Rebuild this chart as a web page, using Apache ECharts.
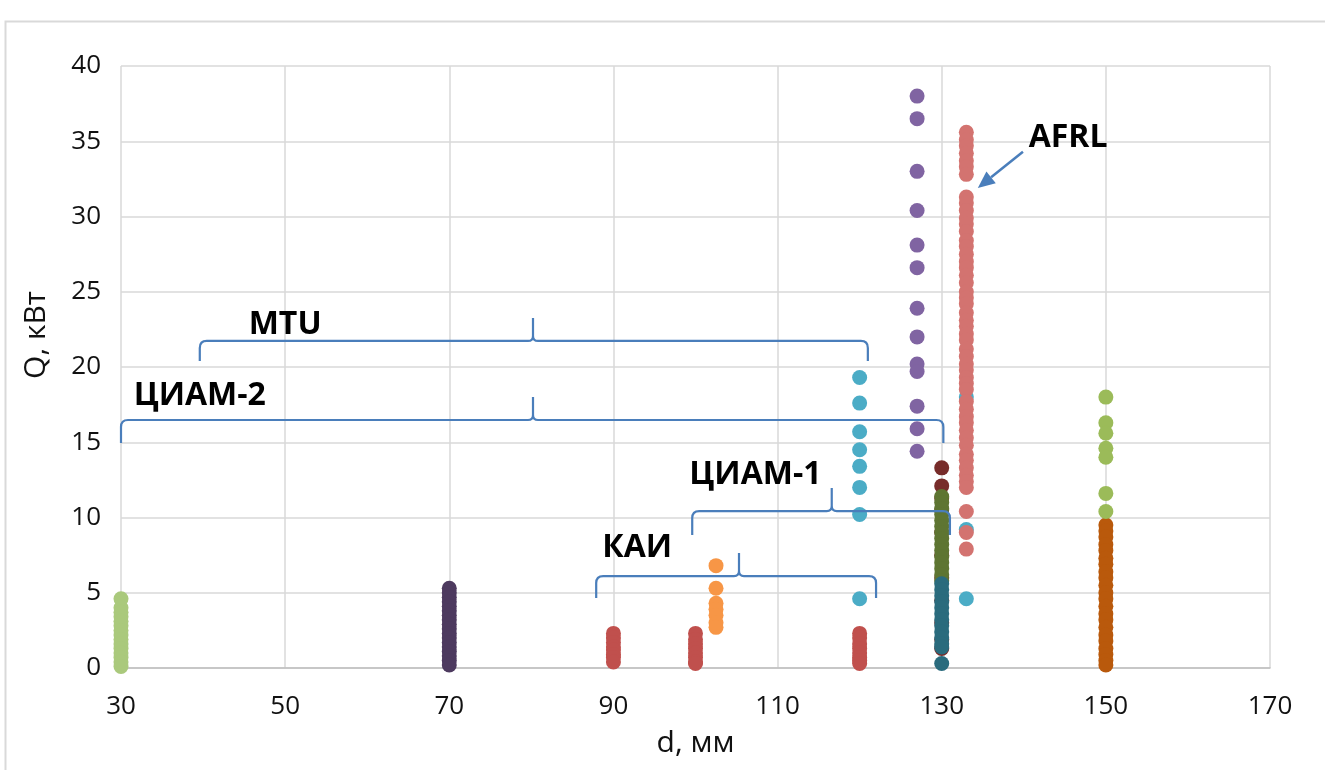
<!DOCTYPE html>
<html>
<head>
<meta charset="utf-8">
<script src="https://cdn.jsdelivr.net/npm/echarts@6/dist/echarts.min.js"></script>
<style>
  html, body { margin: 0; padding: 0; background: #fff; }
  #chart { width: 1325px; height: 770px; }
</style>
</head>
<body>
<div id="chart"></div>
<script>
// Axis ticks
const xTicks = [30, 50, 70, 90, 110, 130, 150, 170];
const yTicks = [0, 5, 10, 15, 20, 25, 30, 35, 40];

// Heat load Q (kW) per channel diameter d (mm), one array per group
const q30 = [4.6, 4.0, 3.7, 3.4, 3.1, 2.8, 2.5, 2.2, 1.9, 1.6, 1.3, 1.0, 0.7, 0.4, 0.1];
const q70 = [5.3, 5.0, 4.7, 4.4, 4.1, 3.8, 3.5, 3.2, 2.9, 2.6, 2.3, 2.0, 1.7, 1.4, 1.1, 0.8, 0.5, 0.2];
const dRed = [90, 100, 120];
const qRed = [
  [2.3, 2.0, 1.7, 1.4, 1.2, 0.9, 0.7, 0.4],
  [2.3, 1.9, 1.6, 1.3, 1.0, 0.7, 0.4, 0.3],
  [2.3, 2.0, 1.6, 1.3, 1.0, 0.7, 0.5, 0.3]
];
const dOrange = 102.5;
const qOrange = [6.8, 5.3, 4.3, 3.9, 3.5, 3.0, 2.7];
const dTeal = [120, 133];
const qTeal = [
  [19.3, 17.6, 15.7, 14.5, 13.4, 12.0, 10.2, 4.6],
  [18.0, 9.2, 4.6]
];
const dPurple = 127;
const qPurple = [38.0, 36.5, 33.0, 30.4, 28.1, 26.6, 23.9, 22.0, 20.2, 19.7, 17.4, 15.9, 14.4];
const dAfrl = 133;
const qAfrl = [35.6, 35.1, 34.7, 34.2, 33.7, 33.3, 32.8, 31.3, 30.9, 30.4, 29.9, 29.5, 29.0,
  28.4, 28.0, 27.5, 27.0, 26.6, 26.1, 25.6, 25.0, 24.6, 24.2, 23.6, 23.1, 22.7, 22.2, 21.8,
  21.2, 20.7, 20.2, 19.8, 19.3, 18.9, 18.5, 17.7, 17.2, 16.7, 16.3, 15.8, 15.3, 14.8, 14.2,
  13.8, 13.3, 12.8, 12.4, 12.0, 10.4, 9.0, 7.9];
const d130 = 130;
const q130DarkRed = [13.3, 12.1, 11.3, 10.5, 9.0, 7.5, 6.0, 4.5, 3.0, 1.9, 1.3];
const q130Olive = [11.4, 11.0, 10.6, 10.2, 9.8, 9.4, 9.0, 8.6, 8.2, 7.8, 7.4, 7.0, 6.6, 6.2, 5.8];
const q130Teal = [5.6, 5.2, 4.8, 4.4, 4.0, 3.6, 3.2, 2.8, 2.4, 2.0, 1.6, 1.4, 0.3];
const d150 = 150;
const q150Green = [18.0, 16.3, 15.6, 14.6, 14.0, 11.6, 10.4];
const q150Brown = [9.5, 9.1, 8.7, 8.2, 7.8, 7.3, 6.9, 6.4, 6.0, 5.5, 5.0, 4.6, 4.1, 3.6,
  3.2, 2.7, 2.2, 1.8, 1.3, 0.9, 0.5, 0.2];

// Group braces in data units: [dFrom, dTo, dCenter, qLine, qTip, qEnd]
const braceNames = ['MTU', 'ЦИАМ-2', 'ЦИАМ-1', 'КАИ'];
const braces = [
  [39.6, 121.0, 80.2, 21.73, 23.26, 20.4],
  [30.0, 130.2, 80.2, 16.48, 18.0, 14.95],
  [99.6, 131.0, 116.6, 10.43, 11.96, 8.84],
  [87.9, 122.0, 105.3, 6.11, 7.64, 4.65]
];
// Caption anchors for the groups: [d, Q]
const braceLabelAt = [[50.0, 22.8], [39.6, 18.1], [107.3, 12.8], [92.9, 7.97]];
// AFRL caption and its arrow: [d, Q]
const afrlLabel = 'AFRL';
const afrlLabelAt = [145.4, 35.2];
const afrlArrow = [[139.9, 34.3], [134.4, 31.9]];

const column = (d, qs) => qs.map(q => [d, q]);
const columns = (ds, qss) => ds.flatMap((d, i) => column(d, qss[i]));

const accent = '#4A7EBB';
const FONT = '"Open Sans", "DejaVu Sans", sans-serif';
const INK = '#111';

function scatter(data, color) {
  return {
    type: 'scatter',
    data: data,
    symbol: 'circle',
    symbolSize: 15,
    itemStyle: { color: color, opacity: 1 },
    emphasis: { disabled: true },
    silent: true
  };
}

const chart = echarts.init(document.getElementById('chart'), null, { renderer: 'canvas' });

const braceSeries = {
  type: 'custom',
  silent: true,
  z: 10,
  clip: false,
  data: braces,
  encode: { x: 0, y: 3 },
  renderItem: function (params, api) {
    const i = params.dataIndex;
    const p0 = api.coord([api.value(0), api.value(3)]);
    const p1 = api.coord([api.value(1), api.value(3)]);
    const pc = api.coord([api.value(2), api.value(3)]);
    const yTip = api.coord([api.value(2), api.value(4)])[1];
    const yEnd = api.coord([api.value(0), api.value(5)])[1];
    const y = p0[1], r = 7, c = 5;
    const path =
      'M' + p0[0] + ',' + yEnd +
      ' L' + p0[0] + ',' + (y + r) +
      ' Q' + p0[0] + ',' + y + ' ' + (p0[0] + r) + ',' + y +
      ' L' + (pc[0] - c) + ',' + y +
      ' Q' + pc[0] + ',' + y + ' ' + pc[0] + ',' + (y - c) +
      ' L' + pc[0] + ',' + yTip +
      ' M' + pc[0] + ',' + (y - c) +
      ' Q' + pc[0] + ',' + y + ' ' + (pc[0] + c) + ',' + y +
      ' L' + (p1[0] - r) + ',' + y +
      ' Q' + p1[0] + ',' + y + ' ' + p1[0] + ',' + (y + r) +
      ' L' + p1[0] + ',' + yEnd;
    const lp = api.coord(braceLabelAt[i]);
    return {
      type: 'group',
      children: [
        {
          type: 'path',
          shape: { pathData: path },
          style: { stroke: accent, lineWidth: 2.2, fill: null }
        },
        {
          type: 'text',
          style: {
            text: braceNames[i], x: lp[0], y: lp[1],
            align: 'center', verticalAlign: 'middle',
            font: 'bold 32px ' + FONT, fill: '#000'
          }
        }
      ]
    };
  }
};

const afrlSeries = {
  type: 'custom',
  silent: true,
  z: 10,
  clip: false,
  data: [afrlLabelAt],
  renderItem: function (params, api) {
    const lp = api.coord(afrlLabelAt);
    const a = api.coord(afrlArrow[0]);
    const b = api.coord(afrlArrow[1]);
    const ang = Math.atan2(b[1] - a[1], b[0] - a[0]);
    const L = 17, W = 7.5;
    const bx = b[0] - L * Math.cos(ang), by = b[1] - L * Math.sin(ang);
    const nx = -Math.sin(ang) * W, ny = Math.cos(ang) * W;
    return {
      type: 'group',
      children: [
        {
          type: 'line',
          shape: { x1: a[0], y1: a[1], x2: bx, y2: by },
          style: { stroke: accent, lineWidth: 2.5 }
        },
        {
          type: 'polygon',
          shape: { points: [[b[0], b[1]], [bx + nx, by + ny], [bx - nx, by - ny]] },
          style: { fill: accent }
        },
        {
          type: 'text',
          style: {
            text: afrlLabel, x: lp[0], y: lp[1],
            align: 'center', verticalAlign: 'middle',
            font: 'bold 32px ' + FONT, fill: '#000'
          }
        }
      ]
    };
  }
};

chart.setOption({
  animation: false,
  backgroundColor: '#fff',
  graphic: [{
    type: 'rect',
    left: 3, top: 19,
    shape: { width: 1340, height: 770 },
    style: { fill: null, stroke: '#D9D9D9', lineWidth: 2 },
    silent: true
  }],
  grid: { left: 121, right: 55, top: 66, bottom: 102 },
  xAxis: {
    type: 'value',
    min: xTicks[0], max: xTicks[xTicks.length - 1], interval: 20,
    name: 'd, мм',
    nameLocation: 'middle',
    nameGap: 60,
    nameTextStyle: { fontFamily: FONT, fontSize: 30, color: INK },
    axisLine: { show: true, lineStyle: { color: '#BFBFBF', width: 1.5 } },
    axisTick: { show: false },
    axisLabel: { margin: 26, fontFamily: FONT, fontSize: 26, color: INK },
    splitLine: { show: true, lineStyle: { color: '#D9D9D9', width: 1.5 } }
  },
  yAxis: {
    type: 'value',
    min: yTicks[0], max: yTicks[yTicks.length - 1], interval: 5,
    name: 'Q, кВт',
    nameLocation: 'middle',
    nameGap: 70,
    nameTextStyle: { fontFamily: FONT, fontSize: 30, color: INK, padding: [0, 0, 0, 64] },
    axisLine: { show: false },
    axisTick: { show: false },
    axisLabel: { margin: 20, fontFamily: FONT, fontSize: 26, color: INK },
    splitLine: { show: true, lineStyle: { color: '#D9D9D9', width: 1.5 } }
  },
  series: [
    scatter(column(30, q30), '#AAC97C'),
    scatter(column(70, q70), '#4D3A5F'),
    scatter(columns(dRed, qRed), '#C0504D'),
    scatter(column(dOrange, qOrange), '#F79646'),
    scatter(columns(dTeal, qTeal), '#4BACC6'),
    scatter(column(dPurple, qPurple), '#8064A2'),
    scatter(column(dAfrl, qAfrl), '#D37370'),
    scatter(column(d130, q130DarkRed), '#772C2A'),
    scatter(column(d130, q130Olive), '#5E7532'),
    scatter(column(d130, q130Teal), '#2A6B7D'),
    scatter(column(d150, q150Brown), '#B9590C'),
    scatter(column(d150, q150Green), '#9BBB59'),
    braceSeries,
    afrlSeries
  ]
});
</script>
</body>
</html>
